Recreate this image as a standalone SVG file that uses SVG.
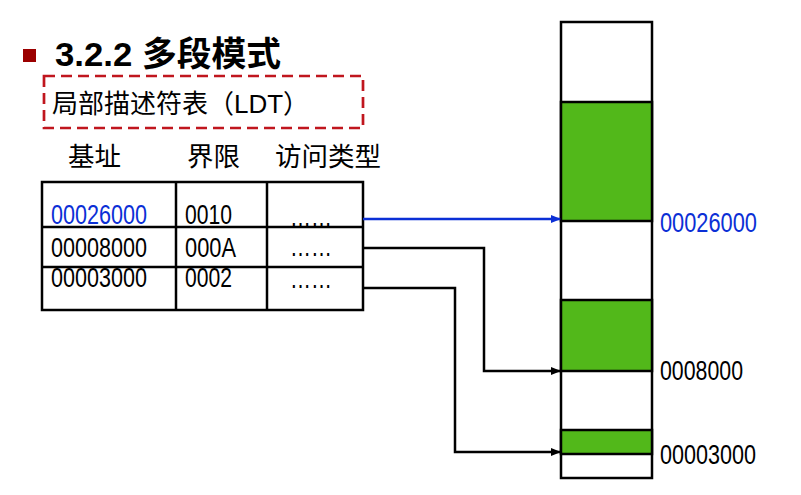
<svg xmlns="http://www.w3.org/2000/svg" width="801" height="495" viewBox="0 0 801 495">
<defs>
<style>
.cjk{font-family:"Liberation Sans","Noto Sans CJK SC",sans-serif;fill:#000}
.num{font-family:"Liberation Sans",Arial,sans-serif;font-size:27px;fill:#000}
.blue{fill:#0b2fd6}
.cell{fill:none;stroke:#000;stroke-width:2.5}
.conn{fill:none;stroke:#000;stroke-width:2.5}
.green{fill:#52b81a;stroke:#000;stroke-width:2.5}
.white{fill:#fff;stroke:#000;stroke-width:2.5}
</style>
<marker id="ab" markerWidth="10" markerHeight="8" refX="9" refY="4" orient="auto" markerUnits="userSpaceOnUse">
<path d="M0,0 L10,4 L0,8 Z" fill="#000"/>
</marker>
<marker id="abb" markerWidth="10" markerHeight="8" refX="9" refY="4" orient="auto" markerUnits="userSpaceOnUse">
<path d="M0,0 L10,4 L0,8 Z" fill="#0b2fd6"/>
</marker>
</defs>
<rect width="801" height="495" fill="#fff"/>

<g id="title">
<rect x="23" y="49" width="13" height="13" fill="#9b0000"/>
<text class="cjk" x="55" y="66" font-size="34" font-weight="bold" textLength="226" lengthAdjust="spacingAndGlyphs">3.2.2 多段模式</text>
</g>

<g id="ldt-label">
<rect x="44" y="76" width="319" height="52" fill="none" stroke="#c0161e" stroke-width="2.7" stroke-dasharray="11,6"/>
<text class="cjk" x="52" y="113" font-size="26">局部描述符表（LDT）</text>
</g>

<g id="headers">
<text class="cjk" x="68" y="166" font-size="26.5">基址</text>
<text class="cjk" x="187" y="166" font-size="26.5">界限</text>
<text class="cjk" x="275" y="166" font-size="26.5">访问类型</text>
</g>

<g id="ldt-table">
<rect class="cell" x="42" y="182" width="321" height="128"/>
<line class="cell" x1="176" y1="182" x2="176" y2="310"/>
<line class="cell" x1="267" y1="182" x2="267" y2="310"/>
<line class="cell" x1="42" y1="227" x2="363" y2="227"/>
<line class="cell" x1="42" y1="267" x2="363" y2="267"/>
<text class="num blue" x="51" y="224" textLength="96" lengthAdjust="spacingAndGlyphs">00026000</text>
<text class="num" x="185" y="224" textLength="47" lengthAdjust="spacingAndGlyphs">0010</text>
<text class="num" x="290" y="226" font-size="20" textLength="42" lengthAdjust="spacingAndGlyphs">……</text>
<text class="num" x="51" y="257" textLength="96" lengthAdjust="spacingAndGlyphs">00008000</text>
<text class="num" x="185" y="257" textLength="51" lengthAdjust="spacingAndGlyphs">000A</text>
<text class="num" x="290" y="256" font-size="20" textLength="42" lengthAdjust="spacingAndGlyphs">……</text>
<text class="num" x="51" y="287" textLength="96" lengthAdjust="spacingAndGlyphs">00003000</text>
<text class="num" x="185" y="287" textLength="47" lengthAdjust="spacingAndGlyphs">0002</text>
<text class="num" x="290" y="288" font-size="20" textLength="42" lengthAdjust="spacingAndGlyphs">……</text>
</g>

<g id="memory">
<rect class="white" x="561" y="22" width="91" height="456"/>
<rect class="green" x="561" y="102" width="91" height="119"/>
<rect class="green" x="561" y="300" width="91" height="71"/>
<rect class="green" x="561" y="430" width="91" height="24"/>
</g>

<g id="addr-labels">
<text class="num blue" x="660" y="232" textLength="97" lengthAdjust="spacingAndGlyphs">00026000</text>
<text class="num" x="660" y="380" textLength="83" lengthAdjust="spacingAndGlyphs">0008000</text>
<text class="num" x="660" y="464" textLength="96" lengthAdjust="spacingAndGlyphs">00003000</text>
</g>

<g id="connectors">
<path d="M363,219 H560" fill="none" stroke="#0b2fd6" stroke-width="2.5" marker-end="url(#abb)"/>
<path class="conn" d="M363,248 H484 V371 H560" marker-end="url(#ab)"/>
<path class="conn" d="M363,288 H455 V452 H560" marker-end="url(#ab)"/>
</g>
</svg>
